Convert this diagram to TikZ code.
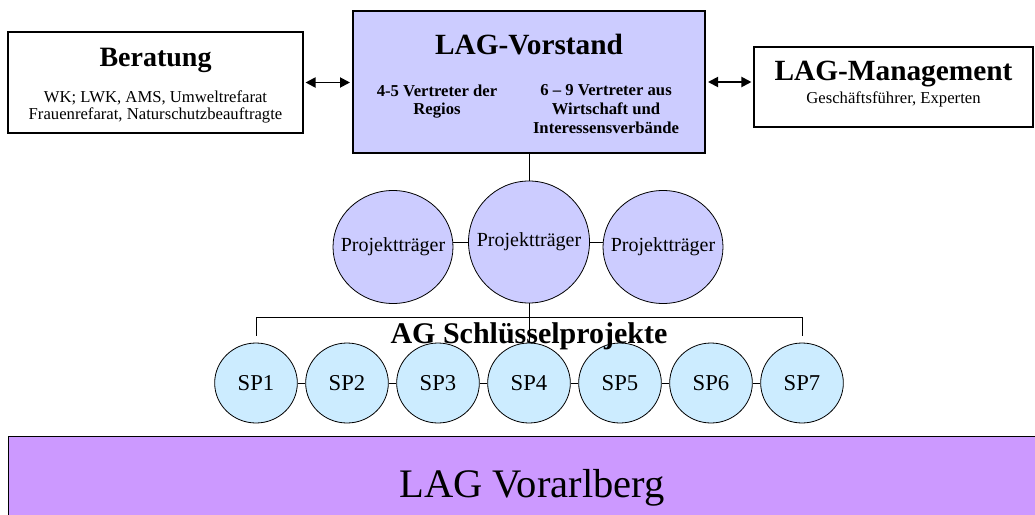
\documentclass[tikz,border=0pt]{standalone}
\usepackage{fontspec}
\setmainfont{Liberation Serif}
\usetikzlibrary{shapes.geometric, positioning}
\usetikzlibrary{arrows.meta}

\begin{document}
\begin{tikzpicture}[x=0.75pt, y=-0.75pt]
            % Цвета
            \definecolor{vorstandblau}{RGB}{204,204,255}
            \definecolor{spblau}{RGB}{204,236,255}
            \definecolor{laglila}{RGB}{204,153,255}

            \tikzset{
                kasten/.style={draw, line width=0.8pt, fill=white, inner sep=0pt, align=center},
                traeger/.style={draw, ellipse, fill=vorstandblau, line width=0.6pt, inner ysep=0pt, inner xsep=-8pt,
                    minimum width=90pt, minimum height=84.75pt, font=\fontsize{15}{18}\selectfont},
                spkreis/.style={draw, ellipse, fill=spblau, line width=0.6pt, inner sep=0pt,
                    minimum width=62pt, minimum height=60pt, font=\fontsize{17}{20}\selectfont},
                titel/.style={font=\fontsize{22}{26}\selectfont\bfseries},
                verbindung/.style={line width=0.6pt},
                doppelpfeil/.style={line width=1.4pt, {Triangle[length=7.5pt,width=7.5pt]}-{Triangle[length=7.5pt,width=7.5pt]}}
            }

            \useasboundingbox (0,0) rectangle (1035,514);

            % Kästen oben
            \node[kasten, minimum width=221.25pt, minimum height=75.75pt] (beratung) at (155.5,82.5) {};
            \node[titel, font=\fontsize{21}{24}\selectfont\bfseries] (beratungtitel) at (155.5,60) {Beratung};
            \node[align=center, font=\fontsize{12.5}{13}\selectfont] (beratungtext) at (155.5,107) {WK; LWK, AMS, Umweltrefarat\\Frauenrefarat, Naturschutzbeauftragte};

            \node[draw, line width=1.5pt, fill=vorstandblau, minimum width=264pt, minimum height=106.5pt] (vorstand) at (529,82) {};
            \node[titel] (vorstandtitel) at (529,45) {LAG-Vorstand};
            \node[align=center, anchor=north, font=\fontsize{12.5}{14}\selectfont\bfseries] (regios) at (437,80) {4-5 Vertreter der\\Regios};
            \node[align=center, anchor=north, font=\fontsize{12.5}{14}\selectfont\bfseries] (verbaende) at (606,80) {6 – 9 Vertreter aus\\Wirtschaft und\\Interessensverbände};

            \node[kasten, minimum width=209.25pt, minimum height=60pt] (management) at (893.5,87) {};
            \node[titel] (managementtitel) at (893.5,74) {LAG-Management};
            \node[font=\fontsize{12.5}{14}\selectfont] (managementtext) at (893.5,99) {Geschäftsführer, Experten};

            \draw[doppelpfeil] ([xshift=1.5pt]beratung.east) -- ([xshift=-1.5pt]beratung.east -| vorstand.west);
            \draw[doppelpfeil] ([xshift=1.5pt]vorstand.east) -- ([xshift=-1.5pt]vorstand.east -| management.west);

            % Projektträger
            \node[traeger] (pt1) at (393,247) {Projektträger};
            \node[traeger, minimum width=90.75pt, minimum height=91.5pt] (pt2) at (529,242) {Projektträger};
            \node[traeger] (pt3) at (663,247) {Projektträger};

            \draw[verbindung] (vorstand.south) -- (pt2.north);
            \draw[verbindung] (pt2.west -| pt1.east) -- (pt2.west);
            \draw[verbindung] (pt2.east) -- (pt2.east -| pt3.west);

            % Schlüsselprojekte
            \node[spkreis] (sp1) at (256,383) {SP1};
            \node[spkreis] (sp2) at (347,383) {SP2};
            \node[spkreis] (sp3) at (438,383) {SP3};
            \node[spkreis] (sp4) at (529,383) {SP4};
            \node[spkreis] (sp5) at (620,383) {SP5};
            \node[spkreis] (sp6) at (711,383) {SP6};
            \node[spkreis] (sp7) at (802,383) {SP7};

            \draw[verbindung] (sp1) -- (sp2) (sp2) -- (sp3) (sp3) -- (sp4) (sp4) -- (sp5) (sp5) -- (sp6) (sp6) -- (sp7);

            \coordinate (aglinks) at (256,317);
            \coordinate (agrechts) at (802,317);
            \draw[verbindung] ([yshift=5pt]sp1.north) -- (aglinks) -- (agrechts) -- ([yshift=5pt]sp7.north);
            \draw[verbindung] (pt2.south) -- (sp4.north);

            \node[anchor=base, font=\fontsize{22.5}{26}\selectfont\bfseries] (agtitel) at (529,343) {AG Schlüsselprojekte};

            % LAG Vorarlberg
            \node[draw, line width=1pt, fill=laglila, anchor=north west, minimum width=780pt, minimum height=70pt] (lag) at (8,436) {};
            \node[anchor=base, font=\fontsize{30.4}{34}\selectfont] (lagtext) at (532,497) {LAG Vorarlberg};

        \end{tikzpicture}
\end{document}
